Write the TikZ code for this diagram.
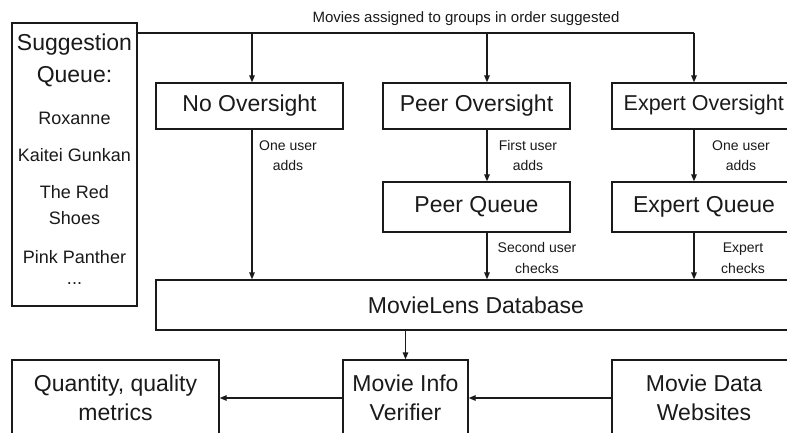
\documentclass[tikz,border=0pt]{standalone}
\usepackage{fontspec}
\setmainfont{Liberation Sans}
\usetikzlibrary{arrows.meta,calc}
\definecolor{ink}{HTML}{1A1A1A}
\tikzset{
  box/.style={draw=ink, line width=1.3pt, inner sep=0pt, text=ink, align=center, font=\fontsize{23}{28.5}\selectfont},
  item/.style={text=ink, inner sep=0pt, font=\fontsize{18}{20}\selectfont},
  lbl/.style={text=ink, inner sep=0pt, align=center, font=\fontsize{14}{20.5}\selectfont},
  arr/.style={draw=ink, line width=1.3pt, -{Triangle[length=7pt,width=5.5pt]}},
  ln/.style={draw=ink, line width=1.3pt}
}
\begin{document}
\begin{tikzpicture}[x=1pt,y=-1pt]
\useasboundingbox (0,0) rectangle (787,432);
\clip (0,0) rectangle (787,432);
\fill[white] (0,0) rectangle (787,432);
% boxes
\node[box, minimum width=125, minimum height=283] (sq) at (74.5,164.5) {};
\node[box, minimum width=187, minimum height=46] (no) at (249.5,106) {No Oversight};
\node[box, minimum width=187, minimum height=46] (peer) at (476.5,106) {Peer Oversight};
\node[box, minimum width=184, minimum height=46] (expo) at (704,106) {};
\node[text=ink, inner sep=0pt, font=\fontsize{21.5}{26}\selectfont, anchor=east] (expot) at (784,105) {Expert Oversight};
\node[box, minimum width=187, minimum height=50] (pq) at (476.5,207) {Peer Queue};
\node[box, minimum width=184, minimum height=50] (eq) at (704,207) {Expert Queue};
\node[box, minimum width=640, minimum height=50] (db) at (476,305) {MovieLens Database};
\node[box, minimum width=207, minimum height=76] (qty) at (115.5,398) {Quantity, quality\\metrics};
\node[box, minimum width=125, minimum height=76] (mv) at (405.5,398) {Movie Info\\Verifier};
\node[box, minimum width=184, minimum height=76] (mdw) at (704,398) {Movie Data\\Websites};
% suggestion queue contents
\node[item, font=\fontsize{23}{26}\selectfont] (s1) at (74.5,45) {Suggestion};
\node[item, font=\fontsize{23}{26}\selectfont] (s2) at (74.5,77) {Queue:};
\node[item] (s3) at (74.5,118) {Roxanne};
\node[item] (s4) at (74.5,155) {Kaitei Gunkan};
\node[item] (s5) at (74.5,192) {The Red};
\node[item] (s6) at (74.5,218) {Shoes};
\node[item] (s7) at (74.5,257) {Pink Panther};
\node[item] (s8) at (74.5,284) {...};
% title
\node[lbl, font=\fontsize{15}{17}\selectfont] (title) at (466,19) {Movies assigned to groups in order suggested};
% coordinates
\coordinate (top) at (0,33);
\coordinate (xa) at (252,0);
\coordinate (xb) at (487,0);
\coordinate (xc) at (694,0);
% top distribution line
\draw[ln] (sq.east |- top) -- (top -| xc);
\draw[arr] (top -| xa) -- (no.north -| xa);
\draw[arr] (top -| xb) -- (peer.north -| xb);
\draw[arr] (top -| xc) -- (expo.north -| xc);
% down arrows
\draw[arr] (no.south -| xa) -- (db.north -| xa);
\draw[arr] (peer.south -| xb) -- (pq.north -| xb);
\draw[arr] (pq.south -| xb) -- (db.north -| xb);
\draw[arr] (expo.south -| xc) -- (eq.north -| xc);
\draw[arr] (eq.south -| xc) -- (db.north -| xc);
\draw[arr] (db.south -| mv.north) -- (mv.north);
\draw[arr] (mv.west) -- (qty.east);
\draw[arr] (mdw.west) -- (mv.east);
% labels
\node[lbl] (l1) at (288,155.5) {One user\\adds};
\node[lbl] (l2) at (528,155.5) {First user\\adds};
\node[lbl] (l3) at (741,155.5) {One user\\adds};
\node[lbl] (l4) at (537,258) {Second user\\checks};
\node[lbl] (l5) at (743,258) {Expert\\checks};
\end{tikzpicture}
\end{document}
